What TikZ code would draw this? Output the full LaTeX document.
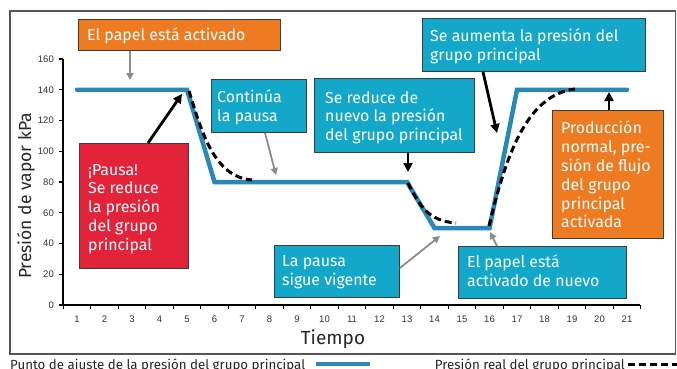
\documentclass[tikz,border=0pt]{standalone}
\usepackage{fontspec}
\setmainfont{Fira Sans}
\newfontfamily\tickfont{Liberation Sans}
\usetikzlibrary{arrows.meta}
\definecolor{corange}{RGB}{238,123,34}
\definecolor{cred}{RGB}{227,35,58}
\definecolor{ccyan}{RGB}{19,168,201}
\definecolor{cblue}{RGB}{42,136,184}
\definecolor{cborder}{RGB}{60,60,60}
\definecolor{cgrayarrow}{RGB}{140,140,140}
\definecolor{cframe}{RGB}{85,85,85}
\begin{document}
\begin{tikzpicture}[x=1pt,y=-1pt,
  box/.style={draw=cborder, line width=0.9pt, inner sep=0pt, anchor=north west},
  btxt/.style={text=white, font=\fontsize{15.9}{18.8}\selectfont, align=left, inner sep=0pt, anchor=north west},
  grayarr/.style={draw=cgrayarrow, line width=1.8pt, -{Triangle[length=7pt,width=7pt]}},
  blackarr/.style={draw=black, line width=2.8pt, -{Triangle[length=9pt,width=9pt]}},
  setline/.style={draw=cblue, line width=4.5pt, line cap=round},
  realline/.style={draw=black, line width=3pt, dash pattern=on 7pt off 4pt},
  ticklab/.style={font=\tickfont\fontsize{9.5}{11}\selectfont, text=black!80, inner sep=0pt},
  legtxt/.style={font=\fontsize{13.3}{15}\selectfont, text=black!85, inner sep=0pt},
]
\useasboundingbox (0,0) rectangle (677,369);
\fill[white] (0,0) rectangle (677,369);
\draw[cframe, line width=1.5pt] (10,11) rectangle (675.5,354);

% axes
\draw[line width=1.1pt] (63,59) -- (63,305) -- (640,305);
\foreach \v in {0,20,...,160} {
  \draw[line width=1.1pt] (59,{305-1.5375*\v}) -- (63,{305-1.5375*\v});
  \node[ticklab, anchor=east] (yl\v) at (54,{305-1.5375*\v}) {\v};
}
\foreach \k in {0,...,21} {
  \draw[line width=1.1pt] ({63.25+27.5*\k},305) -- ++(0,4);
}
\foreach \k in {1,...,21} {
  \node[ticklab] (xl\k) at ({77+27.5*(\k-1)},319) {\k};
}
\node[font=\fontsize{19}{22}\selectfont, text=black!85, inner sep=0pt] (tiempo) at (333,339) {Tiempo};
\node[font=\fontsize{17.5}{20}\selectfont, rotate=90, text=black!85, inner sep=0pt] (ylab) at (26,196) {Presión de vapor kPa};

% set point line
\draw[setline] (77,89.75) -- (187,89.75) -- (214.5,182) -- (407,182) -- (434.5,228.1) -- (489.5,228.1) -- (517,89.75) -- (627,89.75);
% real pressure
\draw[realline] (189,91) .. controls (201,129) and (213,177) .. (252,180);
\draw[realline] (408,183) .. controls (419,205) and (428,221) .. (456,223);
\draw[realline] (489,226) .. controls (505,160) and (525,95) .. (575,89);

% boxes
\node[box, fill=corange, minimum width=202pt, minimum height=31pt] (bActive) at (78,19) {};
\node[btxt] (tActive) at (87,28) {El papel está activado};

\node[box, fill=cred, minimum width=109pt, minimum height=125pt] (bPause) at (79,143) {};
\node[btxt] (tPause) at (88,164) {¡Pausa!\\Se reduce\\la presión\\del grupo\\principal};

\node[box, fill=ccyan, minimum width=95pt, minimum height=53pt] (bCont) at (211,79) {};
\node[btxt] (tCont) at (217,90) {Continúa\\la pausa};

\node[box, fill=ccyan, minimum width=160pt, minimum height=74pt] (bReduce) at (314,78) {};
\node[btxt] (tReduce) at (325,91) {Se reduce de\\nuevo la presión\\del grupo principal};

\node[box, fill=ccyan, minimum width=223pt, minimum height=53pt] (bRaise) at (422,18) {};
\node[btxt] (tRaise) at (430,29) {Se aumenta la presión del\\grupo principal};

\node[box, fill=corange, minimum width=111pt, minimum height=128pt] (bProd) at (552,110) {};
\node[btxt] (tProd) at (561,121) {Producción\\normal, pre-\\sión de flujo\\del grupo\\principal\\activada};

\node[box, fill=ccyan, minimum width=125pt, minimum height=52pt] (bStill) at (274,245) {};
\node[btxt] (tStill) at (282,255.5) {La pausa\\sigue vigente};

\node[box, fill=ccyan, minimum width=168pt, minimum height=52pt] (bAgain) at (458,246) {};
\node[btxt] (tAgain) at (467,255) {El papel está\\activado de nuevo};

% arrow targets
\coordinate (eActive) at (130,80);
\coordinate (sPause) at (148,143);
\coordinate (ePause) at (182,94);
\coordinate (sCont) at (265,132);
\coordinate (eCont) at (276,175);
\coordinate (eReduce) at (408,172);
\coordinate (sRaise) at (483,71);
\coordinate (eRaise) at (497,133);
\coordinate (eProd) at (609,92);
\coordinate (sStill) at (399,268);
\coordinate (eStill) at (440,236);
\coordinate (sAgain) at (497,246);
\coordinate (eAgain) at (490,232);

\draw[grayarr] (bActive.south -| eActive) -- (eActive);
\draw[blackarr] (bPause.north -| sPause) -- (ePause);
\draw[grayarr] (bCont.south -| sCont) -- (eCont);
\draw[blackarr] (bReduce.south -| eReduce) -- (eReduce);
\draw[blackarr] (bRaise.south -| sRaise) -- (eRaise);
\draw[blackarr] (bProd.north -| eProd) -- (eProd);
\draw[grayarr] (bStill.east |- sStill) -- (eStill);
\draw[grayarr] (bAgain.north -| sAgain) -- (eAgain);

% legend
\node[legtxt, anchor=base west] (leg1) at (10,369) {Punto de ajuste de la presión del grupo principal};
\coordinate (l1a) at (316,364);
\coordinate (l1b) at (370,364);
\draw[setline, line cap=butt] (l1a) -- (l1b);
\node[legtxt, anchor=base east] (leg2) at (625,369) {Presión real del grupo principal};
\coordinate (l2a) at (628,364);
\coordinate (l2b) at (677,364);
\draw[realline] (l2a) -- (l2b);
\end{tikzpicture}
\end{document}
